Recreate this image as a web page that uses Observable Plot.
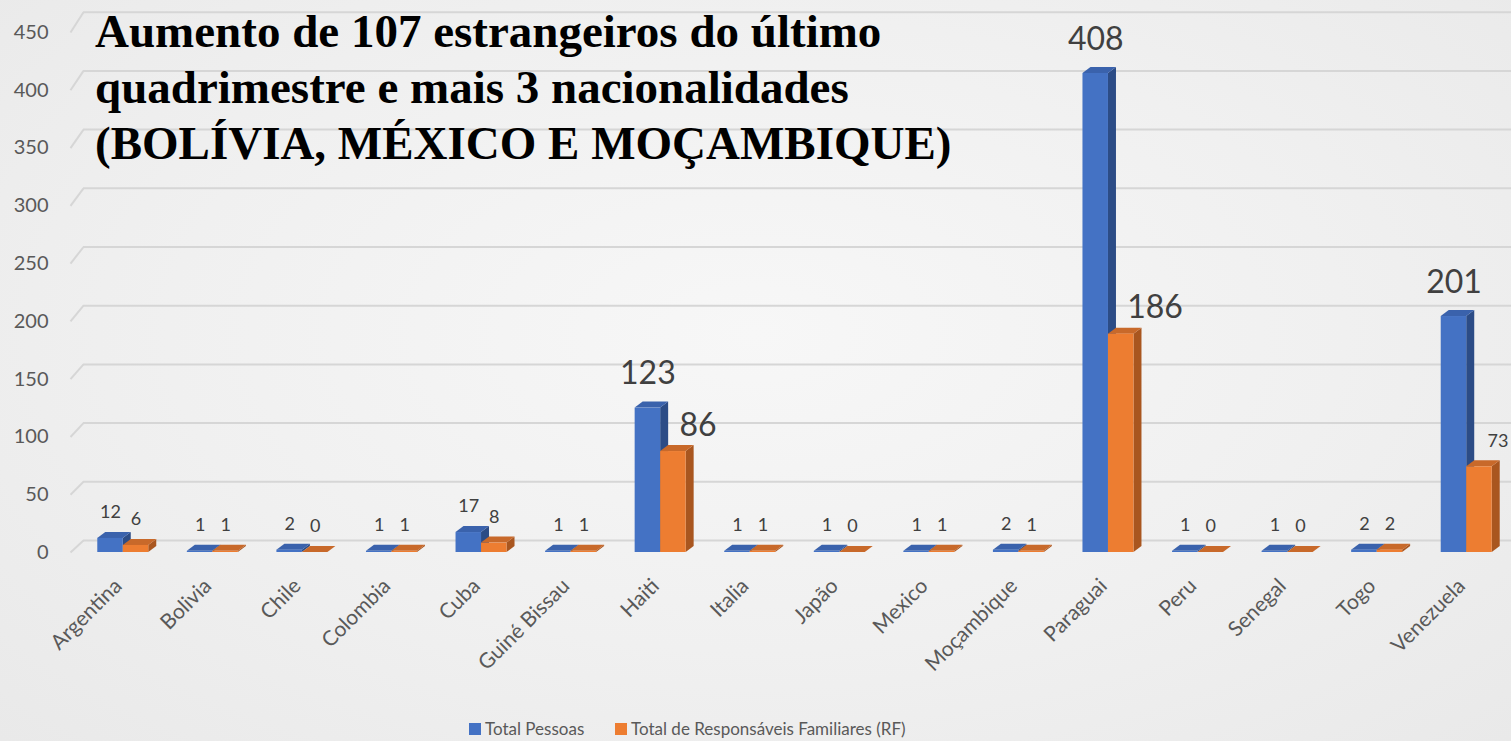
<!DOCTYPE html>
<html>
<head>
<meta charset="utf-8">
<script src="https://cdn.jsdelivr.net/npm/d3@7"></script>
<script src="https://cdn.jsdelivr.net/npm/@observablehq/plot@0.6"></script>
<style>
  html, body { margin: 0; padding: 0; }
  body {
    width: 1511px; height: 741px; overflow: hidden; position: relative;
    background: radial-gradient(ellipse at 50% 45%, #f7f7f7 0%, #f0f0f0 55%, #e9e9e9 100%);
    font-family: Lato, "Open Sans", sans-serif;
  }
  #chart { position: absolute; left: 0; top: 0; }
  #title {
    position: absolute; left: 95px; top: 3px;
    font-family: "Liberation Serif", "DejaVu Serif", serif; font-weight: bold;
    font-size: 47px; line-height: 56px; color: #000; white-space: nowrap;
  }
  #legend { position: absolute; top: 718px; left: 0; font-size: 17px; color: #595959; }
  .item { position: absolute; display: flex; align-items: center; white-space: nowrap; top: 0; }
  .sw { width: 12px; height: 12px; margin-right: 4px; }
</style>
</head>
<body>
<div id="chart"></div>
<div id="title"></div>
<div id="legend"></div>
<script>
const titleLines = [
  "Aumento de 107 estrangeiros do último",
  "quadrimestre e mais 3 nacionalidades",
  "(BOLÍVIA, MÉXICO E MOÇAMBIQUE)"
];
const categories = ["Argentina","Bolivia","Chile","Colombia","Cuba","Guiné Bissau","Haiti","Italia","Japão","Mexico","Moçambique","Paraguai","Peru","Senegal","Togo","Venezuela"];
const totalPessoas = [12,1,2,1,17,1,123,1,1,1,2,408,1,1,2,201];
const totalRF = [6,1,0,1,8,1,86,1,0,1,1,186,0,0,2,73];
const seriesNames = ["Total Pessoas","Total de Responsáveis Familiares (RF)"];
const yTicks = [0,50,100,150,200,250,300,350,400,450];

// geometry helpers (in scale units)
const PX = 1433 / 16;          // px per category
const PY = 1.174;              // px per value unit (front plane)
const W = 25.5 / PX;           // bar width
const DX = 8 / PX;             // bar depth, x
const DY = 6 / PY;             // bar depth, y
const GDX = 13 / PX;           // back-wall depth, x
const GDY = 12 / PY;           // back-wall depth, y
const LK = 520 / 450 / PY;     // perspective factor of the value-axis labels
const yTop = 450 * PY;

const colors = [
  {front: "#4472C4", side: "#2C4C86", top: "#3A62AC"},
  {front: "#ED7D31", side: "#A9561F", top: "#C8692A"}
];
const seriesVals = [totalPessoas, totalRF];
const offsets = [-W, 0];

const marks = [];
// back wall gridlines
const gx0 = -0.5 - 8 / PX;
marks.push(Plot.link(yTicks, {x1: gx0, x2: gx0 + GDX, y1: d => d * LK, y2: d => d + GDY, stroke: "#d6d6d6", strokeWidth: 2}));
marks.push(Plot.ruleY(yTicks, {y: d => d + GDY, x1: gx0 + GDX, x2: 15.7, stroke: "#d6d6d6", strokeWidth: 2}));

// value-axis labels
marks.push(Plot.text(yTicks, {x: -0.5, y: d => d * LK, text: d => String(d), textAnchor: "end", dx: -30, fontSize: 20, fill: "#595959", lineAnchor: "middle"}));

seriesVals.forEach((vals, s) => {
  const bars = categories.map((c, i) => ({i, x0: i + offsets[s], v: vals[i]}));
  const side = bars.flatMap(b => [
    {z: b.i, x: b.x0 + W, y1: 0, y2: b.v},
    {z: b.i, x: b.x0 + W + DX, y1: DY, y2: b.v + DY}
  ]);
  const top = bars.flatMap(b => [
    {z: b.i, y: b.v, x1: b.x0, x2: b.x0 + W},
    {z: b.i, y: b.v + DY, x1: b.x0 + DX, x2: b.x0 + W + DX}
  ]);
  marks.push(Plot.areaY(side, {x: "x", y1: "y1", y2: "y2", z: "z", fill: colors[s].side}));
  marks.push(Plot.areaX(top, {y: "y", x1: "x1", x2: "x2", z: "z", fill: colors[s].top}));
  marks.push(Plot.rectY(bars, {x1: "x0", x2: d => d.x0 + W, y1: 0, y2: "v", fill: colors[s].front}));
});

// data labels
const labelData = (s) => categories.map((c, i) => ({x: i + offsets[s] + W / 2, v: seriesVals[s][i]}));
const big = v => v >= 80;
marks.push(Plot.text(labelData(0).filter(d => !big(d.v)), {x: "x", y: "v", text: d => String(d.v), dy: -26, fontSize: 18, fill: "#404040", lineAnchor: "middle"}));
marks.push(Plot.text(labelData(0).filter(d => big(d.v)), {x: "x", y: "v", text: d => String(d.v), dy: -34, fontSize: 32, fill: "#404040", lineAnchor: "middle"}));
marks.push(Plot.text(labelData(1).filter(d => d.v < 50), {x: "x", y: "v", text: d => String(d.v), dy: -26, fontSize: 18, fill: "#404040", lineAnchor: "middle"}));
marks.push(Plot.text(labelData(1).filter(d => d.v >= 50 && !big(d.v)), {x: "x", y: "v", text: d => String(d.v), dy: -26, dx: 8, textAnchor: "start", fontSize: 18, fill: "#404040", lineAnchor: "middle"}));
marks.push(Plot.text(labelData(1).filter(d => big(d.v)), {x: "x", y: "v", text: d => String(d.v), dy: -26, dx: 6, textAnchor: "start", fontSize: 32, fill: "#404040", lineAnchor: "middle"}));

const xAxisOpts = {ticks: d3.range(16), tickFormat: i => categories[i], tickRotate: -45, tickSize: 0, tickPadding: 30, label: null};
const hasAxisMarks = typeof Plot.axisX === "function";
if (hasAxisMarks) {
  marks.push(Plot.axisX({...xAxisOpts, dx: -5, fontSize: 21, fill: "#595959"}));
}

const chart = Plot.plot({
  width: 1511, height: 700,
  marginLeft: 78, marginRight: 0, marginTop: 552 - yTop, marginBottom: 148,
  style: {background: "transparent", fontFamily: "Lato, sans-serif", fontSize: "21px", color: "#595959", overflow: "visible"},
  x: hasAxisMarks ? {type: "linear", domain: [-0.5, 15.5]} : {type: "linear", domain: [-0.5, 15.5], ...xAxisOpts},
  y: {domain: [0, 450], axis: null},
  marks
});
document.getElementById("chart").appendChild(chart);

document.getElementById("title").innerHTML = titleLines.map(t => `<div>${t}</div>`).join("");

const legendLeft = [469, 615];
const leg = document.getElementById("legend");
seriesNames.forEach((n, s) => {
  const it = document.createElement("div");
  it.className = "item";
  it.style.left = legendLeft[s] + "px";
  it.innerHTML = `<div class="sw" style="background:${colors[s].front}"></div><span>${n}</span>`;
  leg.appendChild(it);
});
</script>
</body>
</html>
